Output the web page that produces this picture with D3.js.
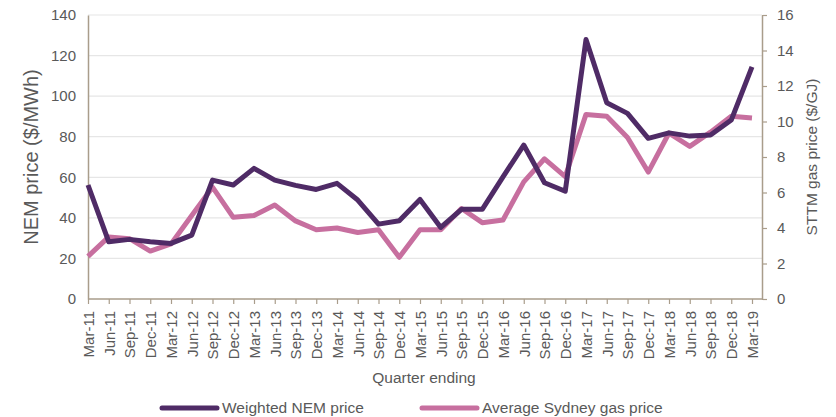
<!DOCTYPE html>
<html>
<head>
<meta charset="utf-8">
<script src="https://cdn.jsdelivr.net/npm/d3@7"></script>
<style>
  body { margin: 0; background: #fff; }
  text { font-family: "Liberation Sans", Arial, sans-serif; fill: #595959; }
</style>
</head>
<body>
<div id="plot"></div>
<script>
// data
var quarters = ["Mar-11","Jun-11","Sep-11","Dec-11","Mar-12","Jun-12","Sep-12","Dec-12",
  "Mar-13","Jun-13","Sep-13","Dec-13","Mar-14","Jun-14","Sep-14","Dec-14",
  "Mar-15","Jun-15","Sep-15","Dec-15","Mar-16","Jun-16","Sep-16","Dec-16",
  "Mar-17","Jun-17","Sep-17","Dec-17","Mar-18","Jun-18","Sep-18","Dec-18","Mar-19"];

// Weighted NEM price, $/MWh (left axis)
var nemPrice = [56.2, 28.2, 29.4, 28.2, 27.4, 31.5, 58.6, 56.2, 64.4, 58.6, 56.0, 54.0,
  57.0, 48.8, 36.9, 38.6, 49.1, 35.3, 44.2, 44.2, 60.2, 75.9, 57.3, 53.1,
  127.9, 96.7, 91.5, 79.2, 81.9, 80.3, 80.8, 88.2, 114.4];

// Average Sydney gas price, $/GJ (right axis)
var gasPrice = [2.4, 3.5, 3.4, 2.7, 3.1, 4.7, 6.3, 4.6, 4.7, 5.3, 4.4, 3.9,
  4.0, 3.75, 3.9, 2.35, 3.9, 3.9, 5.1, 4.3, 4.45, 6.6, 7.9, 6.9,
  10.4, 10.3, 9.1, 7.15, 9.35, 8.6, 9.4, 10.3, 10.2];

var leftTicks = [0, 20, 40, 60, 80, 100, 120, 140];
var rightTicks = [0, 2, 4, 6, 8, 10, 12, 14, 16];

var seriesNames = ["Weighted NEM price", "Average Sydney gas price"];
var colors = ["#4f2b66", "#c76f9f"];

// set the dimensions and margins of the graph
var margin = {top: 15, right: 74, bottom: 118, left: 88},
    width = 836 - margin.left - margin.right,
    height = 417 - margin.top - margin.bottom;

var axisColor = "#a99d8b";

// set the ranges
var x = d3.scalePoint().domain(quarters).range([0, width - 10]);
var yL = d3.scaleLinear().domain([0, 140]).range([height, 0]);
var yR = d3.scaleLinear().domain([0, 16]).range([height, 0]);

var svg = d3.select("#plot").append("svg")
    .attr("width", 836)
    .attr("height", 417)
  .append("g")
    .attr("transform", "translate(" + margin.left + "," + margin.top + ")");

// gridlines
svg.selectAll(".grid")
    .data(leftTicks.slice(1))
  .enter().append("line")
    .attr("x1", 0)
    .attr("x2", width)
    .attr("y1", function(d) { return yL(d); })
    .attr("y2", function(d) { return yL(d); })
    .attr("stroke", "#e6e6e6")
    .attr("stroke-width", 1.2);

// left axis
var gL = svg.append("g")
    .call(d3.axisLeft(yL).tickValues(leftTicks).tickSize(0).tickPadding(12));
gL.select(".domain").attr("stroke", axisColor).attr("stroke-width", 1.5);
gL.selectAll("text").style("font-size", "15px").attr("fill", "#595959");

// right axis
var gR = svg.append("g")
    .attr("transform", "translate(" + width + ",0)")
    .call(d3.axisRight(yR).tickValues(rightTicks).tickSize(5).tickPadding(10).tickSizeOuter(0));
gR.select(".domain").attr("stroke", axisColor).attr("stroke-width", 1.5);
gR.selectAll("line").attr("stroke", axisColor).attr("stroke-width", 1.2);
gR.selectAll("text").style("font-size", "15px").attr("fill", "#595959");

// bottom axis
var gX = svg.append("g")
    .attr("transform", "translate(0," + height + ")")
    .call(d3.axisBottom(x).tickSize(5).tickSizeOuter(0));
gX.select(".domain").attr("d", "M0,0H" + width)
    .attr("stroke", axisColor).attr("stroke-width", 1.5);
gX.selectAll("line").attr("stroke", axisColor).attr("stroke-width", 1.2);
gX.selectAll("text")
    .style("font-size", "15px")
    .attr("fill", "#595959")
    .attr("transform", "rotate(-90)")
    .attr("x", -12)
    .attr("y", 0)
    .attr("dy", "0.35em")
    .style("text-anchor", "end");

// lines
var lineL = d3.line()
    .x(function(d, i) { return x(quarters[i]); })
    .y(function(d) { return yL(d); });
var lineR = d3.line()
    .x(function(d, i) { return x(quarters[i]); })
    .y(function(d) { return yR(d); });

svg.append("path")
    .datum(gasPrice)
    .attr("fill", "none")
    .attr("stroke", colors[1])
    .attr("stroke-width", 5)
    .attr("stroke-linejoin", "round")
    .attr("d", lineR);

svg.append("path")
    .datum(nemPrice)
    .attr("fill", "none")
    .attr("stroke", colors[0])
    .attr("stroke-width", 5)
    .attr("stroke-linejoin", "round")
    .attr("d", lineL);

// axis titles
svg.append("text")
    .attr("transform", "translate(" + (31 - margin.left) + "," + (157 - margin.top) + ") rotate(-90)")
    .attr("text-anchor", "middle")
    .attr("dy", "0.35em")
    .style("font-size", "20px")
    .text("NEM price ($/MWh)");

svg.append("text")
    .attr("transform", "translate(" + (812 - margin.left) + "," + (157 - margin.top) + ") rotate(-90)")
    .attr("text-anchor", "middle")
    .attr("dy", "0.35em")
    .style("font-size", "15.5px")
    .text("STTM gas price ($/GJ)");

svg.append("text")
    .attr("x", 424 - margin.left)
    .attr("y", 383 - margin.top)
    .attr("text-anchor", "middle")
    .style("font-size", "15.5px")
    .text("Quarter ending");

// legend
var legendX = [162, 422];
var legend = svg.selectAll(".legend")
    .data(seriesNames)
  .enter().append("g")
    .attr("transform", function(d, i) {
      return "translate(" + (legendX[i] - margin.left) + "," + (408 - margin.top) + ")";
    });
legend.append("line")
    .attr("x1", 0).attr("x2", 55)
    .attr("stroke", function(d, i) { return colors[i]; })
    .attr("stroke-width", 5)
    .attr("stroke-linecap", "round");
legend.append("text")
    .attr("x", 60)
    .attr("dy", "0.35em")
    .style("font-size", "15.5px")
    .text(function(d) { return d; });
</script>
</body>
</html>
